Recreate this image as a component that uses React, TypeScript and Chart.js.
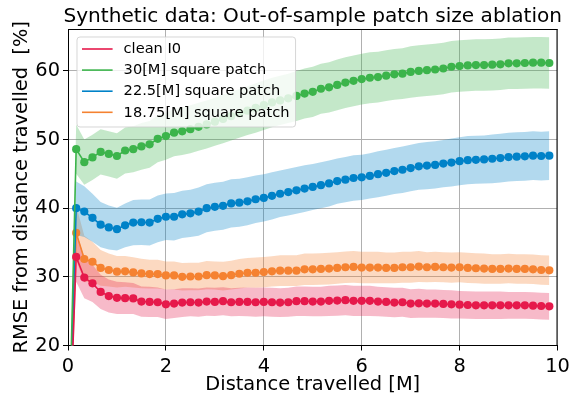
import React, { useEffect, useRef } from 'react';
import { Chart, registerables } from 'chart.js';

Chart.register(...registerables);

const TITLE = 'Synthetic data: Out-of-sample patch size ablation';
const X_TITLE = 'Distance travelled [M]';
const Y_TITLE = 'RMSE from distance travelled  [%]';

const xTicks = [0, 2, 4, 6, 8, 10];
const yTicks = [20, 30, 40, 50, 60];

const distance = [
  0, 0.167, 0.333, 0.5, 0.667, 0.833, 1, 1.167, 1.333, 1.5,
  1.667, 1.833, 2, 2.167, 2.333, 2.5, 2.667, 2.833, 3, 3.167,
  3.333, 3.5, 3.667, 3.833, 4, 4.167, 4.333, 4.5, 4.667, 4.833,
  5, 5.167, 5.333, 5.5, 5.667, 5.833, 6, 6.167, 6.333, 6.5,
  6.667, 6.833, 7, 7.167, 7.333, 7.5, 7.667, 7.833, 8, 8.167,
  8.333, 8.5, 8.667, 8.833, 9, 9.167, 9.333, 9.5, 9.667, 9.833,
];

const seriesNames = ['clean I0', '30[M] square patch', '22.5[M] square patch', '18.75[M] square patch'];
const seriesColors = ['#e6194b', '#3cb44b', '#0082c8', '#f58231'];

const cleanMean = [
  0, 32.9, 29.9, 29.05, 27.8, 27.2, 26.95, 26.9, 26.85, 26.4,
  26.35, 26.3, 26.0, 26.1, 26.25, 26.3, 26.25, 26.4, 26.35, 26.45,
  26.3, 26.35, 26.35, 26.3, 26.35, 26.3, 26.25, 26.3, 26.45, 26.45,
  26.4, 26.4, 26.5, 26.55, 26.6, 26.5, 26.5, 26.5, 26.4, 26.35,
  26.25, 26.3, 26.1, 26.15, 26.1, 26.1, 26.05, 26.0, 25.95, 25.9,
  25.85, 25.85, 25.85, 25.85, 25.85, 25.85, 25.85, 25.8, 25.75, 25.7,
];
const cleanStd = [
  0, 3.6, 3.0, 2.7, 2.5, 2.4, 2.35, 2.3, 2.25, 2.2,
  2.2, 2.15, 2.15, 2.1, 2.1, 2.05, 2.05, 2.05, 2.05, 2.05,
  2.05, 2.05, 2.1, 2.1, 2.1, 2.1, 2.1, 2.1, 2.15, 2.15,
  2.15, 2.15, 2.2, 2.2, 2.2, 2.2, 2.2, 2.2, 2.15, 2.15,
  2.15, 2.1, 2.1, 2.1, 2.05, 2.05, 2.05, 2.05, 2.0, 2.0,
  2.0, 2.0, 2.0, 2.0, 1.95, 1.95, 1.95, 1.95, 1.95, 1.95,
];

const patch30Mean = [
  0, 48.6, 46.7, 47.4, 48.2, 47.9, 47.6, 48.4, 48.6, 49.0,
  49.3, 50.1, 50.5, 51.0, 51.2, 51.5, 51.85, 52.2, 52.6, 53.0,
  53.4, 53.8, 54.2, 54.6, 55.0, 55.4, 55.7, 56.0, 56.35, 56.7,
  56.95, 57.4, 57.6, 57.95, 58.3, 58.55, 58.8, 59.0, 59.1, 59.3,
  59.5, 59.6, 59.85, 60.0, 60.1, 60.2, 60.35, 60.6, 60.7, 60.8,
  60.85, 60.85, 60.9, 60.95, 61.1, 61.1, 61.15, 61.2, 61.2, 61.15,
];
const patch30Std = [
  0, 3.6, 3.3, 3.3, 3.3, 3.3, 3.3, 3.35, 3.35, 3.4,
  3.4, 3.4, 3.45, 3.45, 3.45, 3.5, 3.5, 3.5, 3.5, 3.55,
  3.55, 3.55, 3.55, 3.6, 3.6, 3.6, 3.6, 3.6, 3.65, 3.65,
  3.65, 3.65, 3.65, 3.7, 3.7, 3.7, 3.7, 3.7, 3.7, 3.7,
  3.7, 3.7, 3.75, 3.75, 3.75, 3.75, 3.75, 3.75, 3.75, 3.75,
  3.75, 3.75, 3.75, 3.75, 3.75, 3.75, 3.75, 3.75, 3.75, 3.75,
];

const patch22Mean = [
  0, 40.0, 39.5, 38.6, 37.6, 37.2, 36.95, 37.5, 37.9, 37.95,
  37.9, 38.45, 38.75, 38.75, 39.1, 39.25, 39.5, 40.0, 40.2, 40.35,
  40.7, 40.8, 41.0, 41.3, 41.5, 41.8, 42.1, 42.35, 42.6, 42.85,
  43.1, 43.35, 43.6, 43.95, 44.15, 44.4, 44.5, 44.7, 44.95, 45.15,
  45.4, 45.6, 45.85, 46.1, 46.2, 46.3, 46.5, 46.65, 46.85, 47.0,
  47.05, 47.1, 47.2, 47.3, 47.45, 47.5, 47.55, 47.65, 47.6, 47.65,
];
const patch22Std = [
  0, 3.9, 3.7, 3.5, 3.3, 3.2, 3.1, 3.2, 3.3, 3.3,
  3.35, 3.4, 3.4, 3.45, 3.45, 3.45, 3.5, 3.5, 3.5, 3.5,
  3.5, 3.5, 3.5, 3.45, 3.45, 3.45, 3.4, 3.4, 3.4, 3.4,
  3.35, 3.35, 3.35, 3.3, 3.3, 3.3, 3.3, 3.3, 3.35, 3.35,
  3.35, 3.4, 3.4, 3.4, 3.45, 3.45, 3.45, 3.5, 3.5, 3.5,
  3.5, 3.5, 3.55, 3.55, 3.55, 3.55, 3.55, 3.55, 3.55, 3.55,
];

const patch18Mean = [
  0, 36.4, 32.6, 32.2, 31.3, 31.0, 30.75, 30.8, 30.65, 30.5,
  30.4, 30.4, 30.2, 30.2, 30.0, 30.05, 30.05, 30.25, 30.2, 30.1,
  30.25, 30.45, 30.6, 30.6, 30.7, 30.8, 30.9, 30.9, 30.9, 31.1,
  31.1, 31.15, 31.2, 31.3, 31.4, 31.45, 31.35, 31.35, 31.35, 31.3,
  31.3, 31.4, 31.4, 31.5, 31.4, 31.45, 31.4, 31.35, 31.4, 31.3,
  31.25, 31.2, 31.15, 31.15, 31.2, 31.15, 31.15, 31.1, 31.0, 30.95,
];
const patch18Std = [
  0, 4.0, 3.4, 2.9, 2.6, 2.4, 2.3, 2.25, 2.2, 2.15,
  2.1, 2.1, 2.05, 2.05, 2.0, 2.0, 2.0, 2.05, 2.05, 2.1,
  2.1, 2.15, 2.15, 2.2, 2.2, 2.2, 2.25, 2.25, 2.25, 2.3,
  2.3, 2.3, 2.3, 2.3, 2.3, 2.3, 2.3, 2.3, 2.3, 2.25,
  2.25, 2.25, 2.25, 2.25, 2.2, 2.2, 2.2, 2.2, 2.2, 2.2,
  2.2, 2.2, 2.15, 2.15, 2.15, 2.15, 2.15, 2.15, 2.15, 2.15,
];

const seriesMeans = [cleanMean, patch30Mean, patch22Mean, patch18Mean];
const seriesStds = [cleanStd, patch30Std, patch22Std, patch18Std];

const FONT = 'DejaVu Sans';

function hexA(hex: string, a: number) {
  const r = parseInt(hex.slice(1, 3), 16);
  const g = parseInt(hex.slice(3, 5), 16);
  const b = parseInt(hex.slice(5, 7), 16);
  return `rgba(${r},${g},${b},${a})`;
}

export default function App() {
  const ref = useRef<HTMLCanvasElement | null>(null);

  useEffect(() => {
    document.body.style.margin = '0';
    const canvas = ref.current;
    if (!canvas) return;

    const datasets: any[] = [];
    seriesNames.forEach((name, i) => {
      datasets.push({
        label: name,
        data: distance.map((x, k) => ({ x, y: seriesMeans[i][k] })),
        borderColor: seriesColors[i],
        backgroundColor: seriesColors[i],
        pointBackgroundColor: seriesColors[i],
        pointBorderWidth: 0,
        pointRadius: 4.1,
        borderWidth: 1.6,
        tension: 0,
        fill: false,
      });
    });
    seriesNames.forEach((name, i) => {
      const lowerIndex = datasets.length;
      datasets.push({
        label: name + ' lower',
        data: distance.map((x, k) => ({ x, y: seriesMeans[i][k] - seriesStds[i][k] })),
        borderWidth: 0,
        pointRadius: 0,
        borderColor: 'rgba(0,0,0,0)',
        fill: false,
      });
      datasets.push({
        label: name + ' upper',
        data: distance.map((x, k) => ({ x, y: seriesMeans[i][k] + seriesStds[i][k] })),
        borderWidth: 0,
        pointRadius: 0,
        borderColor: 'rgba(0,0,0,0)',
        backgroundColor: hexA(seriesColors[i], 0.3),
        fill: lowerIndex,
      });
    });

    const decor = {
      id: 'decor',
      afterDraw(chart: any) {
        const { ctx, chartArea: a } = chart;
        ctx.save();
        ctx.strokeStyle = '#000';
        ctx.lineWidth = 1;
        ctx.beginPath();
        ctx.moveTo(a.left, a.top + 0.5);
        ctx.lineTo(a.right, a.top + 0.5);
        ctx.moveTo(a.right - 0.5, a.top);
        ctx.lineTo(a.right - 0.5, a.bottom);
        ctx.stroke();

        ctx.fillStyle = '#000';
        ctx.font = `20.1px "${FONT}"`;
        ctx.textAlign = 'center';
        ctx.textBaseline = 'alphabetic';
        ctx.fillText(TITLE, (a.left + a.right) / 2, 21.5);

        ctx.font = `14.6px "${FONT}"`;
        let maxW = 0;
        seriesNames.forEach((n) => {
          maxW = Math.max(maxW, ctx.measureText(n).width);
        });
        const bx = a.left + 9;
        const by = a.top + 8;
        const bw = 5 + 30.6 + 11 + maxW + 6;
        const bh = 90;
        const r = 3;
        ctx.beginPath();
        ctx.moveTo(bx + r, by);
        ctx.lineTo(bx + bw - r, by);
        ctx.arcTo(bx + bw, by, bx + bw, by + r, r);
        ctx.lineTo(bx + bw, by + bh - r);
        ctx.arcTo(bx + bw, by + bh, bx + bw - r, by + bh, r);
        ctx.lineTo(bx + r, by + bh);
        ctx.arcTo(bx, by + bh, bx, by + bh - r, r);
        ctx.lineTo(bx, by + r);
        ctx.arcTo(bx, by, bx + r, by, r);
        ctx.closePath();
        ctx.fillStyle = 'rgba(255,255,255,0.8)';
        ctx.fill();
        ctx.strokeStyle = 'rgba(204,204,204,0.8)';
        ctx.lineWidth = 1;
        ctx.stroke();

        ctx.textAlign = 'left';
        ctx.textBaseline = 'middle';
        seriesNames.forEach((n, i) => {
          const cy = by + 12 + i * 21.1;
          ctx.strokeStyle = seriesColors[i];
          ctx.lineWidth = 1.6;
          ctx.beginPath();
          ctx.moveTo(bx + 5, cy);
          ctx.lineTo(bx + 5 + 30.6, cy);
          ctx.stroke();
          ctx.fillStyle = '#000';
          ctx.fillText(n, bx + 5 + 30.6 + 11, cy + 0.5);
        });
        ctx.restore();
      },
    };

    const chart = new Chart(canvas, {
      type: 'line',
      data: { datasets },
      options: {
        animation: false,
        responsive: false,
        devicePixelRatio: 1,
        layout: { padding: { left: 0, right: 27.5, top: 29, bottom: 0 } },
        plugins: {
          legend: { display: false },
          tooltip: { enabled: false },
          title: { display: false },
          filler: { drawTime: 'beforeDatasetsDraw' } as any,
        },
        scales: {
          x: {
            type: 'linear',
            min: 0,
            max: 10,
            afterFit(scale: any) {
              scale.height = 49.5;
            },
            afterBuildTicks(scale: any) {
              scale.ticks = xTicks.map((v) => ({ value: v }));
            },
            ticks: {
              color: '#000',
              font: { family: FONT, size: 19.4 },
              padding: 5,
              maxRotation: 0,
              callback: (v: any) => String(v),
            },
            grid: {
              color: '#b0b0b0',
              lineWidth: 1,
              tickLength: 5,
              tickColor: '#000',
              tickWidth: 1,
            },
            border: { display: true, color: '#000', width: 1 },
            title: {
              display: true,
              text: X_TITLE,
              color: '#000',
              font: { family: FONT, size: 19.4 },
              padding: { top: 0, bottom: -1.5 },
            },
          },
          y: {
            type: 'linear',
            min: 20,
            max: 66.1,
            afterFit(scale: any) {
              scale.width = 68;
            },
            afterBuildTicks(scale: any) {
              scale.ticks = yTicks.map((v) => ({ value: v }));
            },
            ticks: {
              color: '#000',
              font: { family: FONT, size: 19.4 },
              padding: 3,
              callback: (v: any) => String(v),
            },
            grid: {
              color: '#b0b0b0',
              lineWidth: 1,
              tickLength: 5,
              tickColor: '#000',
              tickWidth: 1,
            },
            border: { display: true, color: '#000', width: 1 },
            title: {
              display: true,
              text: Y_TITLE,
              color: '#000',
              font: { family: FONT, size: 19.4 },
              padding: { top: 10, bottom: 0 },
            },
          },
        },
      },
      plugins: [decor],
    });

    return () => chart.destroy();
  }, []);

  return (
    <div style={{ width: 585, height: 395 }}>
      <canvas ref={ref} width={585} height={395} style={{ width: 585, height: 395, display: 'block' }} />
    </div>
  );
}
